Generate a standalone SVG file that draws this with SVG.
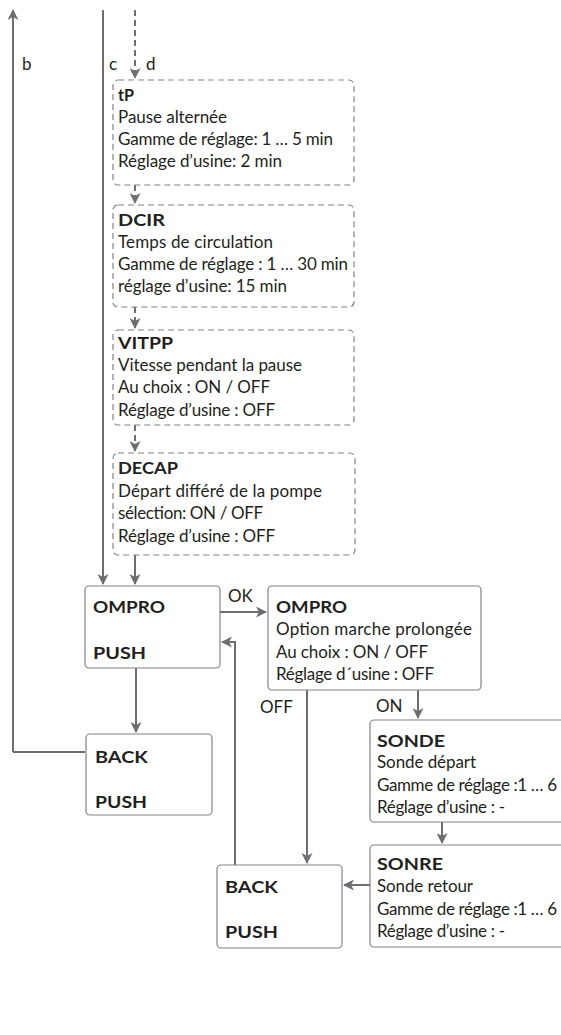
<svg xmlns="http://www.w3.org/2000/svg" width="561" height="1035" viewBox="0 0 561 1035">
<style>
text{font-family:Lato,"Liberation Sans",sans-serif;font-size:17px;fill:#231f20}
.b{font-weight:bold;font-size:17.5px}
.box{fill:#fff;stroke:#808285;stroke-width:1.2}
.dbox{fill:#fff;stroke:#808285;stroke-width:1.2;stroke-dasharray:6 4}
.ln{fill:none;stroke:#6d6e71;stroke-width:2}
.dl{fill:none;stroke:#6d6e71;stroke-width:2;stroke-dasharray:6 4}
</style>
<defs>
<marker id="ar" markerWidth="11" markerHeight="11" refX="10" refY="5.5" orient="auto" markerUnits="userSpaceOnUse" viewBox="0 0 11 11">
<path d="M0,0 L11,5.5 L0,11 L3,5.5 z" fill="#6d6e71"/>
</marker>
</defs>
<rect width="561" height="1035" fill="#fff"/>
<g id="connectors">
<path class="ln" d="M13,752 V10" marker-end="url(#ar)"/>
<path class="ln" d="M13,752 H85"/>
<path class="ln" d="M103,10 V584" marker-end="url(#ar)"/>
<path class="dl" d="M135,10 V78" marker-end="url(#ar)"/>
<path class="dl" d="M135,185 V203" marker-end="url(#ar)"/>
<path class="dl" d="M135,307 V328" marker-end="url(#ar)"/>
<path class="dl" d="M135,425 V451" marker-end="url(#ar)"/>
<path class="ln" d="M135,555 V584" marker-end="url(#ar)"/>
<path class="ln" d="M220,612 H266" marker-end="url(#ar)"/>
<path class="ln" d="M136,668 V732" marker-end="url(#ar)"/>
<path class="ln" d="M235,865 V642 H222" marker-end="url(#ar)"/>
<path class="ln" d="M307,690 V863" marker-end="url(#ar)"/>
<path class="ln" d="M418,690 V718" marker-end="url(#ar)"/>
<path class="ln" d="M442,822 V843" marker-end="url(#ar)"/>
<path class="ln" d="M370,885 H344" marker-end="url(#ar)"/>
<text x="22" y="70">b</text>
<text x="109" y="70">c</text>
<text x="146" y="70">d</text>
<text x="228" y="602">OK</text>
<text x="260" y="713">OFF</text>
<text x="376" y="712">ON</text>
</g>
<g id="tP">
<rect class="dbox" x="113" y="80" width="241" height="105" rx="5"/>
<text class="b" x="118" y="101" textLength="16" lengthAdjust="spacingAndGlyphs">tP</text>
<text x="118" y="123" textLength="109">Pause alternée</text>
<text x="118" y="145" textLength="215">Gamme de réglage: 1 … 5 min</text>
<text x="118" y="167" textLength="164">Réglage d’usine: 2 min</text>
</g>
<g id="DCIR">
<rect class="dbox" x="113" y="205" width="241" height="102" rx="5"/>
<text class="b" x="118" y="226" textLength="47" lengthAdjust="spacingAndGlyphs">DCIR</text>
<text x="118" y="248" textLength="155">Temps de circulation</text>
<text x="118" y="270" textLength="230">Gamme de réglage : 1 … 30 min</text>
<text x="118" y="292" textLength="169">réglage d’usine: 15 min</text>
</g>
<g id="VITPP">
<rect class="dbox" x="113" y="330" width="241" height="95" rx="5"/>
<text class="b" x="118" y="349" textLength="55" lengthAdjust="spacingAndGlyphs">VITPP</text>
<text x="118" y="371" textLength="184">Vitesse pendant la pause</text>
<text x="118" y="393" textLength="152">Au choix : ON / OFF</text>
<text x="118" y="416" textLength="157">Réglage d’usine : OFF</text>
</g>
<g id="DECAP">
<rect class="dbox" x="113" y="453" width="242" height="102" rx="5"/>
<text class="b" x="118" y="474" textLength="60" lengthAdjust="spacingAndGlyphs">DECAP</text>
<text x="118" y="497" textLength="204">Départ différé de la pompe</text>
<text x="118" y="519" textLength="145">sélection: ON / OFF</text>
<text x="118" y="542" textLength="157">Réglage d’usine : OFF</text>
</g>
<g id="OMPRO1">
<rect class="box" x="85" y="586" width="135" height="82" rx="4"/>
<text class="b" x="93" y="613" textLength="72" lengthAdjust="spacingAndGlyphs">OMPRO</text>
<text class="b" x="93" y="659" textLength="53" lengthAdjust="spacingAndGlyphs">PUSH</text>
</g>
<g id="OMPRO2">
<rect class="box" x="268" y="586" width="213" height="104" rx="4"/>
<text class="b" x="276" y="613" textLength="71" lengthAdjust="spacingAndGlyphs">OMPRO</text>
<text x="276" y="635" textLength="196">Option marche prolongée</text>
<text x="276" y="658" textLength="152">Au choix : ON / OFF</text>
<text x="276" y="680" textLength="158">Réglage d´usine : OFF</text>
</g>
<g id="BACK1">
<rect class="box" x="86" y="734" width="126" height="81" rx="4"/>
<text class="b" x="95" y="763" textLength="53" lengthAdjust="spacingAndGlyphs">BACK</text>
<text class="b" x="95" y="808" textLength="52" lengthAdjust="spacingAndGlyphs">PUSH</text>
</g>
<g id="SONDE">
<rect class="box" x="370" y="720" width="200" height="102" rx="4"/>
<text class="b" x="377" y="747" textLength="68" lengthAdjust="spacingAndGlyphs">SONDE</text>
<text x="377" y="768" textLength="99">Sonde départ</text>
<text x="377" y="791" textLength="180">Gamme de réglage :1 … 6</text>
<text x="377" y="813" textLength="128">Réglage d’usine : -</text>
</g>
<g id="SONRE">
<rect class="box" x="370" y="845" width="200" height="102" rx="4"/>
<text class="b" x="377" y="870" textLength="66" lengthAdjust="spacingAndGlyphs">SONRE</text>
<text x="377" y="892" textLength="96">Sonde retour</text>
<text x="377" y="915" textLength="180">Gamme de réglage :1 … 6</text>
<text x="377" y="937" textLength="128">Réglage d’usine : -</text>
</g>
<g id="BACK2">
<rect class="box" x="217" y="865" width="125" height="83" rx="4"/>
<text class="b" x="225" y="893" textLength="53" lengthAdjust="spacingAndGlyphs">BACK</text>
<text class="b" x="225" y="938" textLength="53" lengthAdjust="spacingAndGlyphs">PUSH</text>
</g>
</svg>
